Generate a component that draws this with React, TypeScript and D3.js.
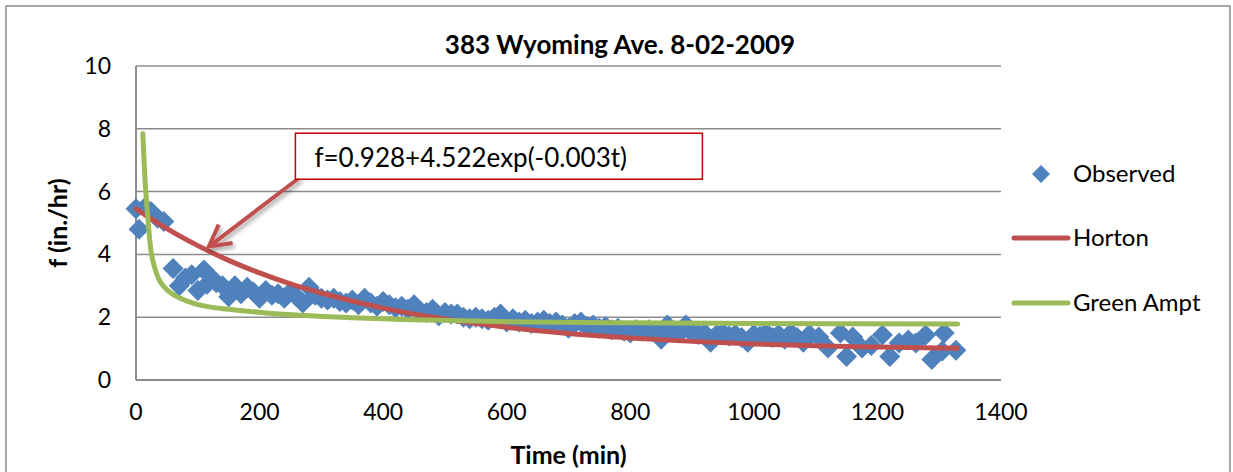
import React from 'react';
import * as d3 from "d3";

// observed infiltration rate, [time (min), f (in./hr)]
const observed: [number, number][] = [
    [0, 5.45], [5, 4.8], [15, 5.5], [25, 5.35], [35, 5.15], [45, 5.05],
    [60, 3.55], [70, 3.0], [80, 3.25], [90, 3.35], [100, 2.85], [110, 3.5],
    [115, 3.05], [120, 3.3], [130, 3.1], [140, 3.0], [150, 2.65], [160, 3.0],
    [170, 2.75], [180, 2.95], [190, 2.8], [200, 2.6], [210, 2.85], [220, 2.7],
    [230, 2.75], [240, 2.6], [250, 2.8], [260, 2.65], [270, 2.45], [280, 2.95],
    [290, 2.7], [300, 2.6], [310, 2.55], [320, 2.6], [330, 2.5], [340, 2.45],
    [350, 2.55], [360, 2.4], [370, 2.6], [380, 2.45], [390, 2.35], [400, 2.5],
    [410, 2.4], [420, 2.3], [430, 2.35], [440, 2.25], [450, 2.4], [460, 2.2],
    [470, 2.15], [480, 2.25], [490, 2.05], [500, 2.15], [510, 2.1], [520, 2.1],
    [530, 2.0], [540, 1.95], [550, 2.0], [560, 1.95], [570, 1.9], [580, 2.0],
    [590, 2.1], [600, 1.85], [610, 1.95], [620, 1.85], [630, 1.9], [640, 1.8],
    [650, 1.85], [660, 1.9], [670, 1.8], [680, 1.85], [690, 1.75], [700, 1.65],
    [710, 1.8], [720, 1.85], [730, 1.7], [740, 1.75], [750, 1.65], [760, 1.7],
    [770, 1.6], [780, 1.65], [790, 1.55], [800, 1.5], [810, 1.6], [820, 1.55],
    [830, 1.6], [840, 1.55], [850, 1.3], [860, 1.75], [870, 1.55], [880, 1.5],
    [890, 1.75], [900, 1.5], [910, 1.45], [920, 1.5], [930, 1.2], [940, 1.45],
    [950, 1.5], [960, 1.4], [970, 1.45], [980, 1.35], [990, 1.2], [1000, 1.45],
    [1010, 1.4], [1020, 1.5], [1030, 1.35], [1040, 1.45], [1050, 1.3], [1060, 1.5],
    [1070, 1.35], [1080, 1.2], [1090, 1.45], [1105, 1.37], [1120, 1.02], [1140, 1.5],
    [1150, 0.75], [1160, 1.37], [1175, 1.02], [1190, 1.1], [1208, 1.43], [1220, 0.75],
    [1235, 1.18], [1250, 1.27], [1262, 1.18], [1278, 1.43], [1288, 0.65], [1305, 0.92],
    [1308, 1.5], [1327, 0.95],
];

// Horton fit
const horton: [number, number][] = [
    [0, 5.45], [50, 4.82], [100, 4.28], [150, 3.81], [200, 3.41], [250, 3.06],
    [300, 2.77], [400, 2.29], [500, 1.94], [600, 1.68], [700, 1.48], [800, 1.34],
    [900, 1.23], [1000, 1.15], [1100, 1.09], [1200, 1.05], [1330, 1.01],
];

// Green Ampt curve
const greenAmpt: [number, number][] = [
    [11, 7.85], [14, 6.6], [18, 5.45], [24, 4.15], [30, 3.6], [36, 3.25],
    [45, 2.98], [58, 2.75], [70, 2.62], [92, 2.45], [121, 2.32], [160, 2.23],
    [202, 2.15], [265, 2.06], [350, 1.98], [430, 1.93], [588, 1.86], [800, 1.82],
    [1000, 1.8], [1330, 1.78],
];

const xTicks = [0, 200, 400, 600, 800, 1000, 1200, 1400];
const yTicks = [0, 2, 4, 6, 8, 10];
const legendLabels = ["Observed", "Horton", "Green Ampt"];
const title = "383 Wyoming Ave. 8-02-2009";
const equation = "f=0.928+4.522exp(-0.003t)";

const font = "Lato, 'Liberation Sans', sans-serif";
const blue = "#4f81bd";
const red = "#c0504d";
const green = "#9bbb59";
const grid = "#8c8c8c";

const App = () => {
    const width = 1233;
    const height = 472;
    const plot = {left: 136, right: 1001, top: 66, bottom: 380};

    const x = d3.scaleLinear().domain([0, 1400]).range([plot.left, plot.right]);
    const y = d3.scaleLinear().domain([0, 10]).range([plot.bottom, plot.top]);

    const line = d3.line<[number, number]>()
        .x(d => x(d[0]))
        .y(d => y(d[1]))
        .curve(d3.curveMonotoneX);

    const diamond = (cx: number, cy: number, r: number) =>
        `M${cx},${cy - r}L${cx + r},${cy}L${cx},${cy + r}L${cx - r},${cy}Z`;

    // annotation box + arrow (in data coords, so it sits with the chart)
    const boxX = x(258), boxY = y(7.86);
    const boxW = 407, boxH = 46;
    const arrowFrom: [number, number] = [x(265), y(6.45)];
    const arrowTo: [number, number] = [x(118), y(4.25)];
    const ang = Math.atan2(arrowTo[1] - arrowFrom[1], arrowTo[0] - arrowFrom[0]);
    const headLen = 24;
    const head = [ang + Math.PI - 0.5, ang + Math.PI + 0.5].map(a =>
        [arrowTo[0] + headLen * Math.cos(a), arrowTo[1] + headLen * Math.sin(a)]);

    const legendX = 1041;
    const legendY = [174, 238, 303];

    return (
        <div style={{position: "absolute", top: 0, left: 0}}>
            <svg width={width} height={height} style={{display: "block", background: "white"}}>
                <defs>
                    <filter id="shadow" x="-20%" y="-20%" width="140%" height="140%">
                        <feDropShadow dx="2" dy="3" stdDeviation="2" floodColor="#000" floodOpacity="0.35"/>
                    </filter>
                </defs>
                <rect x={6} y={6} width={1224} height={480} fill="white" stroke={grid} strokeWidth={1.5}/>

                {/* gridlines */}
                {yTicks.filter(t => t > 0).map(t =>
                    <line key={t} x1={plot.left} x2={plot.right} y1={y(t)} y2={y(t)} stroke={grid} strokeWidth={1.5}/>
                )}
                {/* axes */}
                <line x1={plot.left} x2={plot.left} y1={plot.top} y2={plot.bottom} stroke={grid} strokeWidth={2}/>
                <line x1={plot.left} x2={plot.right} y1={plot.bottom} y2={plot.bottom} stroke={grid} strokeWidth={2}/>

                {yTicks.map(t =>
                    <text key={t} x={111} y={y(t)} dy="0.35em" textAnchor="end"
                          fontFamily={font} fontSize={23} fill="#000">{t}</text>
                )}
                {xTicks.map(t =>
                    <text key={t} x={x(t)} y={412} dy="0.35em" textAnchor="middle"
                          fontFamily={font} fontSize={23} fill="#000">{t}</text>
                )}

                <text x={620} y={45} dy="0.35em" textAnchor="middle" fontFamily={font}
                      fontWeight="bold" fontSize={26} fill="#000">{title}</text>
                <text x={(plot.left + plot.right) / 2} y={455} dy="0.35em" textAnchor="middle"
                      fontFamily={font} fontWeight="bold" fontSize={25} fill="#000">Time (min)</text>
                <text transform={`translate(58,${(plot.top + plot.bottom) / 2}) rotate(-90)`} dy="0.35em"
                      textAnchor="middle" fontFamily={font} fontWeight="bold" fontSize={25} fill="#000">f (in./hr)</text>

                {/* observed */}
                <g fill={blue}>
                    {observed.map((d, i) =>
                        <path key={i} d={diamond(x(d[0]), y(d[1]), 10.5)}/>
                    )}
                </g>

                <path d={line(horton) || ""} fill="none" stroke={red} strokeWidth={5} strokeLinecap="round"/>
                <path d={line(greenAmpt) || ""} fill="none" stroke={green} strokeWidth={5} strokeLinecap="round"/>

                {/* annotation */}
                <g filter="url(#shadow)">
                    <line x1={arrowFrom[0]} y1={arrowFrom[1]} x2={arrowTo[0]} y2={arrowTo[1]}
                          stroke={red} strokeWidth={4}/>
                    <polyline points={`${head[0][0]},${head[0][1]} ${arrowTo[0]},${arrowTo[1]} ${head[1][0]},${head[1][1]}`}
                              fill="none" stroke={red} strokeWidth={4}/>
                </g>
                <rect x={boxX} y={boxY} width={boxW} height={boxH} fill="white" stroke="#c00000" strokeWidth={1.5}/>
                <text x={boxX + 19} y={boxY + boxH / 2 + 2} dy="0.35em" fontFamily={font} fontSize={26} fill="#000">{equation}</text>

                {/* legend */}
                <path d={diamond(legendX, legendY[0], 9)} fill={blue}/>
                <line x1={1014} x2={1068} y1={legendY[1]} y2={legendY[1]} stroke={red} strokeWidth={5} strokeLinecap="round"/>
                <line x1={1014} x2={1068} y1={legendY[2]} y2={legendY[2]} stroke={green} strokeWidth={5} strokeLinecap="round"/>
                {legendLabels.map((l, i) =>
                    <text key={l} x={1073} y={legendY[i]} dy="0.35em" fontFamily={font} fontSize={24} fill="#000">{l}</text>
                )}
            </svg>
        </div>
    );
};

export default App;
